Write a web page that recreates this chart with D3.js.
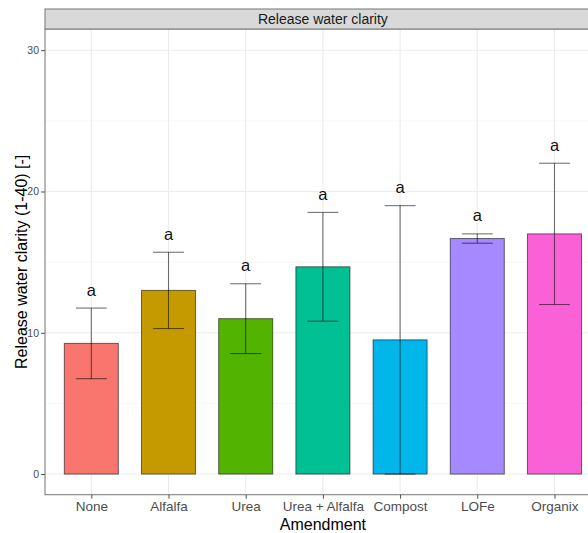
<!DOCTYPE html>
<html>
<head>
<meta charset="utf-8">
<script src="https://cdn.jsdelivr.net/npm/d3@7"></script>
<style>
  html, body { margin: 0; padding: 0; background: #fff; }
  svg { display: block; font-family: "Liberation Sans", Arial, sans-serif; }
</style>
</head>
<body>
<svg id="chart" width="588" height="533"></svg>
<script>
// ---- data ----
const categories = ["None", "Alfalfa", "Urea", "Urea + Alfalfa", "Compost", "LOFe", "Organix"];
const means = [9.25, 13.0, 11.0, 14.67, 9.5, 16.67, 17.0];
const errors = [2.5, 2.7, 2.47, 3.85, 9.5, 0.33, 5.0];
const letters = ["a", "a", "a", "a", "a", "a", "a"];
const colors = ["#F8766D", "#C49A00", "#53B400", "#00C094", "#00B6EB", "#A58AFF", "#FB61D7"];
const yTicks = [0, 10, 20, 30];
const yMinor = [5, 15, 25];
const stripTitle = "Release water clarity";
const xTitle = "Amendment";
const yTitle = "Release water clarity (1-40) [-]";

// ---- layout ----
const W = 588, H = 533;
const panel = { left: 45, right: 600.8, top: 29, bottom: 494.7 };
const svg = d3.select("#chart");

const x = d3.scalePoint().domain(categories).range([panel.left, panel.right]).padding(0.6);
const step = x.step();
const y = d3.scaleLinear().domain([-1.46, 31.5]).range([panel.bottom, panel.top]);

// panel background
svg.append("rect").attr("x", panel.left).attr("y", panel.top)
  .attr("width", panel.right - panel.left).attr("height", panel.bottom - panel.top)
  .attr("fill", "#fff");

// grid
const grid = svg.append("g");
grid.selectAll(".minor").data(yMinor).join("line")
  .attr("x1", panel.left).attr("x2", panel.right)
  .attr("y1", d => y(d)).attr("y2", d => y(d))
  .attr("stroke", "#F2F2F2").attr("stroke-width", 0.6);
grid.selectAll(".major").data(yTicks).join("line")
  .attr("x1", panel.left).attr("x2", panel.right)
  .attr("y1", d => y(d)).attr("y2", d => y(d))
  .attr("stroke", "#EBEBEB").attr("stroke-width", 1.1);
grid.selectAll(".vmajor").data(categories).join("line")
  .attr("x1", d => x(d)).attr("x2", d => x(d))
  .attr("y1", panel.top).attr("y2", panel.bottom)
  .attr("stroke", "#EBEBEB").attr("stroke-width", 1.1);

// bars
const bw = step * 0.7;
svg.append("g").selectAll("rect").data(categories).join("rect")
  .attr("x", d => x(d) - bw / 2)
  .attr("y", (d, i) => y(means[i]))
  .attr("width", bw)
  .attr("height", (d, i) => y(0) - y(means[i]))
  .attr("fill", (d, i) => colors[i])
  .attr("stroke", "rgba(0,0,0,0.55)")
  .attr("stroke-width", 1);

// error bars
const ew = step * 0.4;
const eb = svg.append("g").attr("stroke", "rgba(0,0,0,0.55)").attr("stroke-width", 1.1).attr("fill", "none");
categories.forEach((c, i) => {
  const lo = Math.max(0, means[i] - errors[i]);
  const hi = means[i] + errors[i];
  const cx = x(c);
  eb.append("line").attr("x1", cx).attr("x2", cx).attr("y1", y(lo)).attr("y2", y(hi));
  eb.append("line").attr("x1", cx - ew / 2).attr("x2", cx + ew / 2).attr("y1", y(hi)).attr("y2", y(hi));
  eb.append("line").attr("x1", cx - ew / 2).attr("x2", cx + ew / 2).attr("y1", y(lo)).attr("y2", y(lo));
});

// letters
svg.append("g").selectAll("text").data(categories).join("text")
  .attr("x", d => x(d))
  .attr("y", (d, i) => y(means[i] + errors[i]) - 12.5)
  .attr("text-anchor", "middle")
  .attr("font-size", 16.5)
  .attr("fill", "#111")
  .text((d, i) => letters[i]);

// panel border (left & bottom visible, right off-canvas)
svg.append("rect").attr("x", panel.left).attr("y", panel.top)
  .attr("width", panel.right - panel.left).attr("height", panel.bottom - panel.top)
  .attr("fill", "none").attr("stroke", "#7F7F7F").attr("stroke-width", 1.1);

// strip
svg.append("rect").attr("x", panel.left).attr("y", 9)
  .attr("width", panel.right - panel.left).attr("height", panel.top - 9)
  .attr("fill", "#D9D9D9").attr("stroke", "#7F7F7F").attr("stroke-width", 1.1);
svg.append("text").attr("x", (panel.left + panel.right) / 2).attr("y", 19)
  .attr("dy", "0.35em").attr("text-anchor", "middle")
  .attr("font-size", 14).attr("fill", "#1A1A1A").text(stripTitle);

// y axis
const yAxis = svg.append("g").attr("transform", `translate(${panel.left},0)`)
  .call(d3.axisLeft(y).tickValues(yTicks).tickSize(4).tickPadding(2));
yAxis.select(".domain").remove();
yAxis.selectAll(".tick line").attr("stroke", "#4D4D4D");
yAxis.selectAll(".tick text").attr("fill", "#4D4D4D").attr("font-size", 10.5)
  .attr("font-family", "Liberation Sans, Arial, sans-serif");

// x axis
const xAxis = svg.append("g").attr("transform", `translate(0,${panel.bottom})`)
  .call(d3.axisBottom(x).tickSize(4).tickPadding(3));
xAxis.select(".domain").remove();
xAxis.selectAll(".tick line").attr("stroke", "#4D4D4D");
xAxis.selectAll(".tick text").attr("fill", "#4D4D4D").attr("font-size", 13.5)
  .attr("font-family", "Liberation Sans, Arial, sans-serif");

// titles
svg.append("text").attr("x", (panel.left + panel.right) / 2).attr("y", 524.5)
  .attr("dy", "0.35em").attr("text-anchor", "middle")
  .attr("font-size", 16).attr("fill", "#000").text(xTitle);
svg.append("text")
  .attr("transform", `translate(21.7,${(panel.top + panel.bottom) / 2}) rotate(-90)`)
  .attr("dy", "0.35em").attr("text-anchor", "middle")
  .attr("font-size", 16).attr("fill", "#000").text(yTitle);
</script>
</body>
</html>
